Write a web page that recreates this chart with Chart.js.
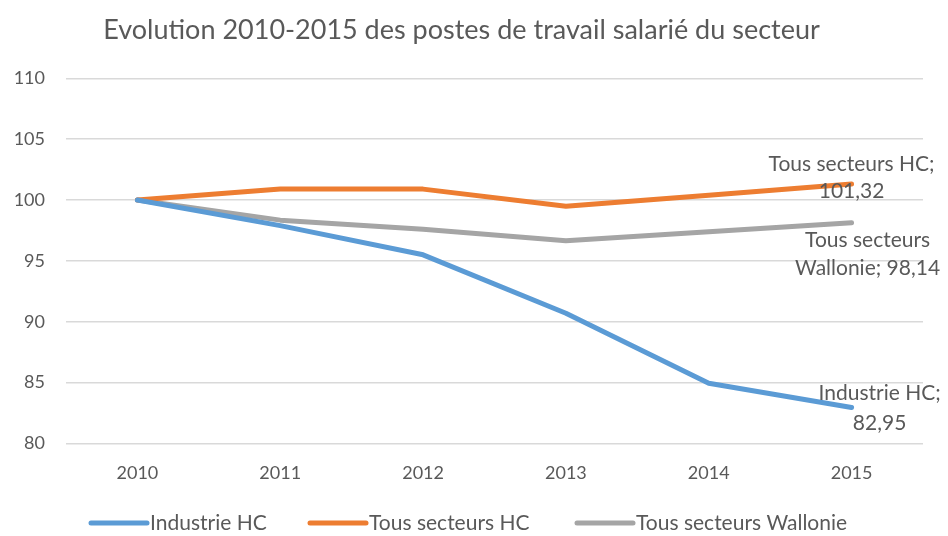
<!DOCTYPE html>
<html>
<head>
<meta charset="utf-8">
<script src="https://cdn.jsdelivr.net/npm/chart.js@4"></script>
<style>
  html, body { margin: 0; padding: 0; background: #fff; }
  #wrap { width: 948px; height: 536px; }
</style>
</head>
<body>
<div id="wrap"><canvas id="chart" width="948" height="536"></canvas></div>
<script>
// ── DATA ──
const years = ['2010', '2011', '2012', '2013', '2014', '2015'];
const industrieHC = [100, 97.9, 95.5, 90.7, 84.95, 82.95];
const tousSecteursHC = [100, 100.9, 100.9, 99.5, 100.4, 101.32];
const tousSecteursWallonie = [100, 98.35, 97.6, 96.65, 97.4, 98.14];
const seriesNames = ['Industrie HC', 'Tous secteurs HC', 'Tous secteurs Wallonie'];

const COLORS = ['#5B9BD5', '#ED7D31', '#A5A5A5'];
const TEXT = '#595959';
const FONT = 'Lato, "Open Sans", sans-serif';

// end labels: lines of text + offset from the last point
const END_LABELS = [
  { lines: ['Industrie HC;', '82,95'], dx: 28, dy: [-14, 16] },
  { lines: ['Tous secteurs HC;', '101,32'], dx: 0, dy: [-20, 7] },
  { lines: ['Tous secteurs', 'Wallonie; 98,14'], dx: 16, dy: [18, 46] }
];

const endLabels = {
  id: 'endLabels',
  afterDatasetsDraw(chart) {
    const ctx = chart.ctx;
    ctx.save();
    ctx.font = '21px ' + FONT;
    ctx.fillStyle = TEXT;
    ctx.textAlign = 'center';
    ctx.textBaseline = 'middle';
    chart.data.datasets.forEach((ds, i) => {
      const meta = chart.getDatasetMeta(i);
      const pt = meta.data[meta.data.length - 1];
      const lab = END_LABELS[i];
      lab.lines.forEach((t, j) => ctx.fillText(t, pt.x + lab.dx, pt.y + lab.dy[j]));
    });
    ctx.restore();
  }
};

// legend drawn by hand: thick line sample, text right after it
const lineLegend = {
  id: 'lineLegend',
  afterDraw(chart) {
    const ctx = chart.ctx;
    const xs = [91, 310, 577];
    const y = 523;
    ctx.save();
    ctx.font = '21px ' + FONT;
    ctx.textBaseline = 'middle';
    chart.data.datasets.forEach((ds, i) => {
      ctx.strokeStyle = ds.borderColor;
      ctx.lineWidth = 5;
      ctx.lineCap = 'round';
      ctx.beginPath();
      ctx.moveTo(xs[i], y);
      ctx.lineTo(xs[i] + 56, y);
      ctx.stroke();
      ctx.fillStyle = TEXT;
      ctx.fillText(ds.label, xs[i] + 59, y);
    });
    ctx.restore();
  }
};

const datasets = [industrieHC, tousSecteursHC, tousSecteursWallonie].map((d, i) => ({
  label: seriesNames[i],
  data: d,
  borderColor: COLORS[i],
  backgroundColor: COLORS[i],
  borderWidth: 5,
  pointRadius: 0,
  tension: 0,
  borderCapStyle: 'round',
  borderJoinStyle: 'round'
}));

new Chart(document.getElementById('chart'), {
  type: 'line',
  data: { labels: years, datasets },
  options: {
    responsive: false,
    animation: false,
    layout: { padding: { left: 0, right: 25, top: 0, bottom: 33 } },
    plugins: {
      legend: { display: false },
      tooltip: { enabled: false },
      title: {
        display: true,
        text: 'Evolution 2010-2015 des postes de travail salarié du secteur',
        color: TEXT,
        font: { family: FONT, size: 27, weight: 'normal' },
        padding: { top: 14, bottom: 32 }
      }
    },
    scales: {
      x: {
        offset: true,
        grid: { display: false, drawTicks: false },
        border: { display: false },
        ticks: { color: TEXT, font: { family: FONT, size: 18 }, padding: 19 }
      },
      y: {
        min: 80,
        max: 110,
        grid: { color: '#D9D9D9', lineWidth: 1.5, drawTicks: false },
        border: { display: false },
        ticks: { stepSize: 5, color: TEXT, font: { family: FONT, size: 18 }, padding: 21 },
        afterFit(scale) { scale.width = 66; }
      }
    }
  },
  plugins: [endLabels, lineLegend]
});
</script>
</body>
</html>
